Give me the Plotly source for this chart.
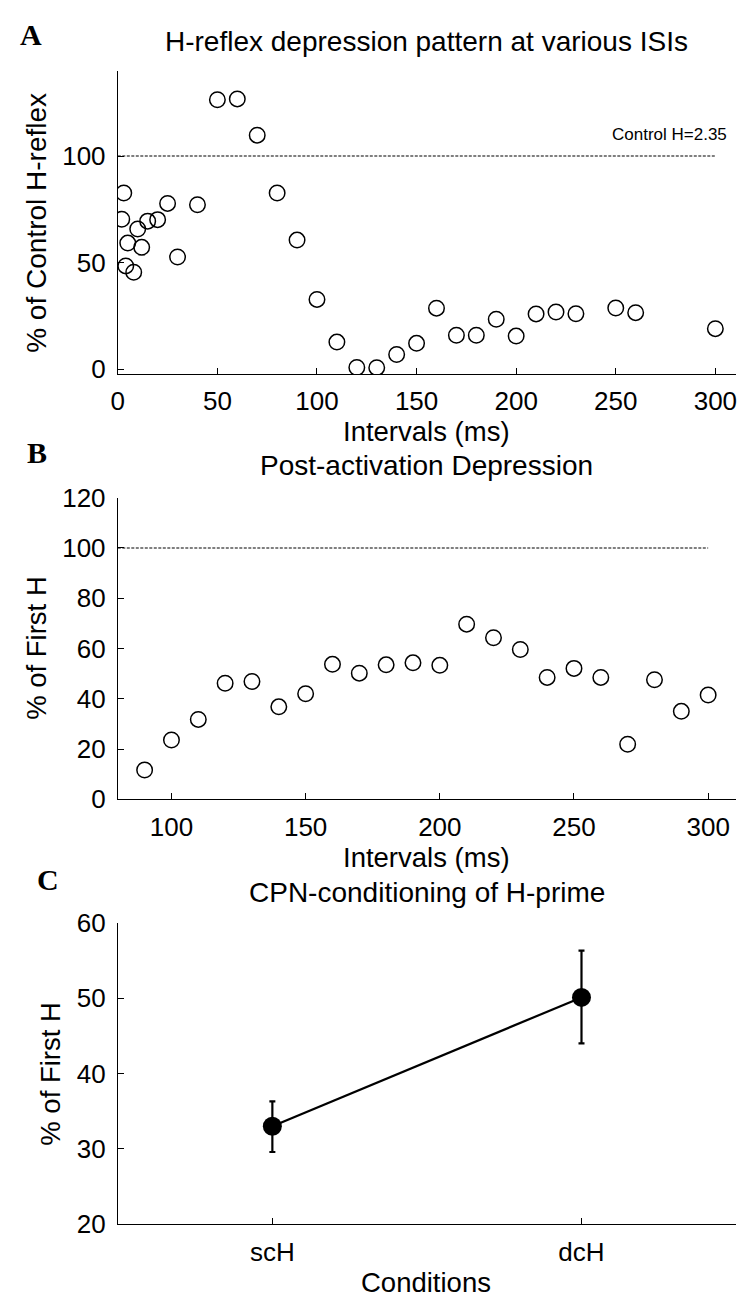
import plotly.graph_objects as go

W, H = 743, 1311

# ---------------- data ----------------
# Panel A: H-reflex depression pattern at various ISIs
isi_a = [2, 3, 4, 5, 8, 10, 12, 15, 20, 25, 30, 40, 50, 60, 70, 80, 90, 100, 110,
         120, 130, 140, 150, 160, 170, 180, 190, 200, 210, 220, 230, 250, 260, 300]
pct_control_a = [70.4, 82.7, 48.5, 59.2, 45.5, 65.8, 57.2, 69.5, 70.2, 77.8, 52.7,
                 77.2, 126.4, 126.8, 109.8, 82.7, 60.6, 32.8, 12.8, 0.9, 0.8, 7.0,
                 12.2, 28.7, 16.0, 16.0, 23.5, 15.6, 26.0, 26.9, 26.1, 28.8, 26.6, 19.1]
ref_x_a = [0, 300]
ref_y_a = [100, 100]
control_label = "Control H=2.35"

# Panel B: Post-activation depression
isi_b = [90, 100, 110, 120, 130, 140, 150, 160, 170, 180, 190, 200, 210, 220, 230,
         240, 250, 260, 270, 280, 290, 300]
pct_first_b = [11.7, 23.6, 31.8, 46.2, 46.9, 36.8, 42.0, 53.7, 50.2, 53.5, 54.3,
               53.3, 69.7, 64.3, 59.6, 48.5, 52.1, 48.5, 21.9, 47.6, 35.0, 41.5]
ref_x_b = [80, 300]
ref_y_b = [100, 100]

# Panel C: CPN-conditioning of H-prime
conditions = ["scH", "dcH"]
cond_pos = [1, 2]
pct_first_c = [33.0, 50.1]
err_plus_c = [3.3, 6.2]
err_minus_c = [3.4, 6.1]

# tick labels
xticks_a = [0, 50, 100, 150, 200, 250, 300]
yticks_a = [0, 50, 100]
xticks_b = [100, 150, 200, 250, 300]
yticks_b = [0, 20, 40, 60, 80, 100, 120]
yticks_c = [20, 30, 40, 50, 60]

# ---------------- styling helpers ----------------
FONT = "Liberation Sans, Arial, sans-serif"
SERIF = "Liberation Serif, Times New Roman, serif"
BLACK = "#000000"


def px_x(p):
    return p / W


def px_y(p):
    return 1 - p / H


def axis_common(**kw):
    d = dict(
        showline=True, linecolor=BLACK, linewidth=1,
        ticks="inside", ticklen=6, tickwidth=1, tickcolor=BLACK,
        showgrid=False, zeroline=False, mirror=False,
        tickfont=dict(family=FONT, size=26, color=BLACK),
    )
    d.update(kw)
    return d


x_dom = [px_x(112), px_x(737)]
DASH = "3px,1.5px"

fig = go.Figure()

# Panel A
fig.add_trace(go.Scatter(x=ref_x_a, y=ref_y_a, mode="lines",
                         line=dict(color=BLACK, width=1.1, dash=DASH),
                         xaxis="x", yaxis="y", hoverinfo="skip", showlegend=False))
fig.add_trace(go.Scatter(x=isi_a, y=pct_control_a, mode="markers",
                         marker=dict(symbol="circle-open", size=15.5, color=BLACK,
                                     line=dict(width=1.5, color=BLACK)),
                         xaxis="x", yaxis="y", showlegend=False))

# Panel B
fig.add_trace(go.Scatter(x=ref_x_b, y=ref_y_b, mode="lines",
                         line=dict(color=BLACK, width=1.1, dash=DASH),
                         xaxis="x2", yaxis="y2", hoverinfo="skip", showlegend=False))
fig.add_trace(go.Scatter(x=isi_b, y=pct_first_b, mode="markers",
                         marker=dict(symbol="circle-open", size=15.5, color=BLACK,
                                     line=dict(width=1.5, color=BLACK)),
                         xaxis="x2", yaxis="y2", showlegend=False))

# Panel C
fig.add_trace(go.Scatter(x=cond_pos, y=pct_first_c, mode="lines+markers",
                         line=dict(color=BLACK, width=2.2),
                         marker=dict(symbol="circle", size=19, color=BLACK),
                         error_y=dict(type="data", array=err_plus_c, arrayminus=err_minus_c,
                                      symmetric=False, color=BLACK, thickness=2.2, width=3),
                         xaxis="x3", yaxis="y3", showlegend=False))

fig.update_layout(
    width=W, height=H,
    margin=dict(l=0, r=0, t=0, b=0),
    paper_bgcolor="white", plot_bgcolor="white",
    font=dict(family=FONT, color=BLACK),
    xaxis=axis_common(domain=x_dom, range=[0, 310.4], anchor="y",
                      tickvals=xticks_a, ticklabelstandoff=4),
    yaxis=axis_common(domain=[px_y(367.7), px_y(57.7)], range=[-2.3, 139.7], anchor="x",
                      tickvals=yticks_a, ticklabelstandoff=6),
    xaxis2=axis_common(domain=x_dom, range=[80, 310.4], anchor="y2",
                       tickvals=xticks_b, ticklabelstandoff=4),
    yaxis2=axis_common(domain=[px_y(802.7), px_y(494)], range=[0, 120], anchor="x2",
                       tickvals=yticks_b, ticklabelstandoff=6),
    xaxis3=axis_common(domain=x_dom, range=[0.5, 2.5], anchor="y3",
                       tickvals=cond_pos, ticktext=conditions, ticklabelstandoff=4),
    yaxis3=axis_common(domain=[px_y(1237.7), px_y(929)], range=[20, 60], anchor="x3",
                       tickvals=yticks_c, ticklabelstandoff=6),
)

anns = []


def text_ann(txt, xc, yc, size=27.5, angle=0, xanchor="center", family=FONT, bold=False):
    anns.append(dict(
        text=("<b>%s</b>" % txt) if bold else txt,
        x=px_x(xc), y=px_y(yc), xref="paper", yref="paper",
        xanchor=xanchor, yanchor="middle", showarrow=False, textangle=angle,
        font=dict(family=family, size=size, color=BLACK),
    ))


# titles
text_ann("H-reflex depression pattern at various ISIs", 424.5, 27, size=28)
text_ann("Post-activation Depression", 424.5, 461, size=28)
text_ann("CPN-conditioning of H-prime", 424.5, 898, size=28)
# x-axis titles
text_ann("Intervals (ms)", 424, 426)
text_ann("Intervals (ms)", 424, 862)
text_ann("Conditions", 424, 1297)
# y-axis titles
text_ann("% of Control H-reflex", 29, 213, angle=-90, size=28)
text_ann("% of First H", 29, 648, angle=-90)
text_ann("% of First H", 44, 1084, angle=-90)
# panel letters
text_ann("A", 24, 20, size=30, family=SERIF, bold=True)
text_ann("B", 30, 448, size=30, family=SERIF, bold=True)
text_ann("C", 41, 885, size=30, family=SERIF, bold=True)

# control annotation (data coordinates)
anns.append(dict(text=control_label, x=307, y=110, xref="x", yref="y",
                 xanchor="right", yanchor="middle", showarrow=False,
                 font=dict(family=FONT, size=17, color=BLACK)))

fig.update_layout(annotations=anns)

PAGE_JS = """
document.documentElement.style.margin='0';
document.documentElement.style.padding='0';
document.documentElement.style.overflow='hidden';
document.body.style.margin='0';
document.body.style.padding='0';
document.body.style.overflow='hidden';
var gd = document.getElementById('{plot_id}');
gd.style.position='fixed';
gd.style.left='0px';
gd.style.top='0px';
"""

fig.write_html("out.html", config=dict(displayModeBar=False), post_script=PAGE_JS)
